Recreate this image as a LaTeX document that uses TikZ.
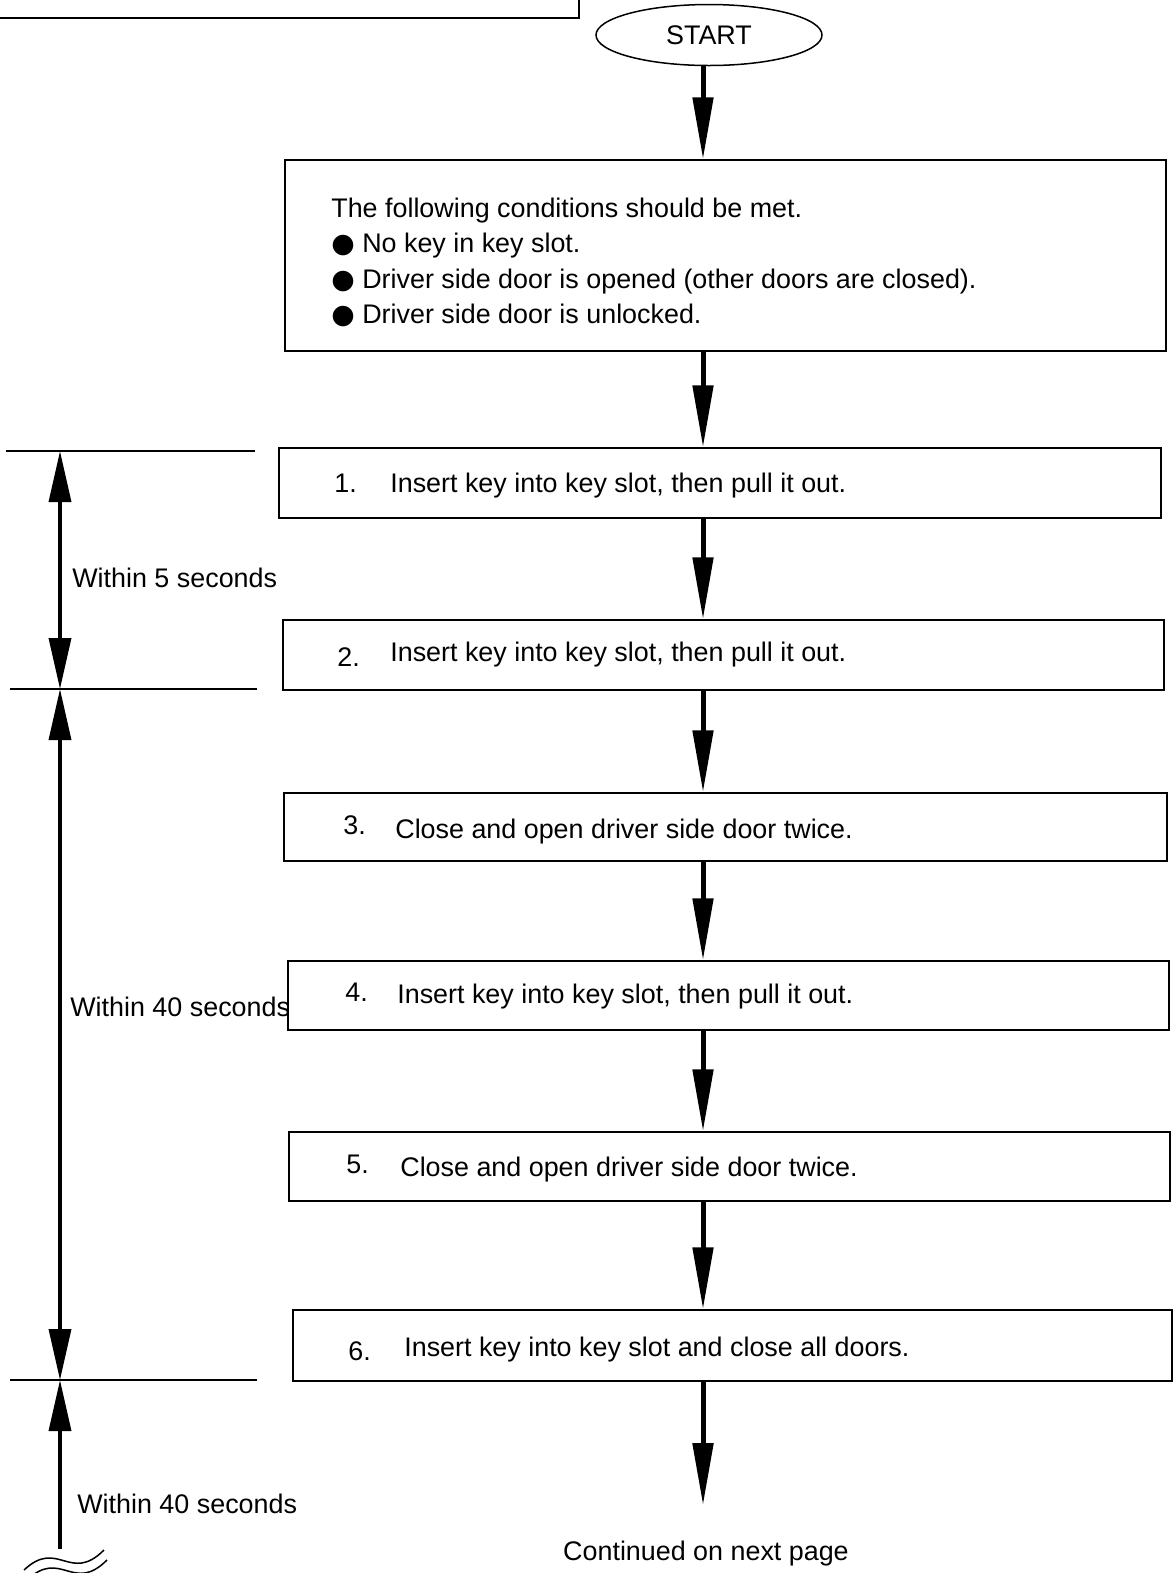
\documentclass[tikz,border=0pt]{standalone}
\usepackage{fontspec}
\setmainfont{Liberation Sans}
\newfontfamily\dotfont{DejaVu Sans}
\usetikzlibrary{arrows.meta,shapes.geometric}
\newcommand{\blt}{{\dotfont ●}\ }
\begin{document}
\begin{tikzpicture}[x=0.2mm,y=-0.2mm,font=\fontsize{15.3}{20}\selectfont,
    boxline/.style={line width=0.3mm},
    stepbox/.style={draw,boxline,minimum height=14mm,inner sep=0pt},
    txt/.style={inner sep=0pt,anchor=base west},
    flow/.style={line width=1mm,-{Triangle[length=12.4mm,width=4mm]}},
    dimboth/.style={line width=0.7mm,{Triangle[length=10.2mm,width=4.4mm]}-{Triangle[length=10.2mm,width=4.4mm]}},
    dimup/.style={line width=0.7mm,{Triangle[length=10.2mm,width=4.4mm]}-}]
\useasboundingbox (0,0) rectangle (1173,1573);
% corner of the box above
\draw[boxline] (-5,18) -- (579,18) -- (579,-5);
\node[draw,boxline,ellipse,minimum width=45.2mm,minimum height=12.2mm,inner sep=0pt] (start) at (709,35) {START};
\coordinate (axis) at (703,0);
% conditions
\node[stepbox,minimum width=176.2mm,minimum height=38.2mm] (cond) at (725.5,255.5) {};
\node[inner sep=0pt,anchor=north west,align=left] (condtxt) at (331,198) {The following conditions should be met.\\
\blt No key in key slot.\\
\blt Driver side door is opened (other doors are closed).\\
\blt Driver side door is unlocked.};
% steps
\node[stepbox,minimum width=176.4mm] (s1) at (720,483) {};
\node[txt] (n1) at (334,492.5) {1.};
\node[txt] (t1) at (390,492.5) {Insert key into key slot, then pull it out.};
\node[stepbox,minimum width=176.2mm] (s2) at (723.5,655) {};
\node[txt] (n2) at (337,666.5) {2.};
\node[txt] (t2) at (390,661.5) {Insert key into key slot, then pull it out.};
\node[stepbox,minimum width=176.6mm,minimum height=13.6mm] (s3) at (725.5,827) {};
\node[txt] (n3) at (343,834.5) {3.};
\node[txt] (t3) at (395,838.5) {Close and open driver side door twice.};
\node[stepbox,minimum width=176.2mm,minimum height=13.8mm] (s4) at (728.5,995.5) {};
\node[txt] (n4) at (345,1001.5) {4.};
\node[txt] (t4) at (397,1003.5) {Insert key into key slot, then pull it out.};
\node[stepbox,minimum width=176.2mm,minimum height=13.8mm] (s5) at (729.5,1166.5) {};
\node[txt] (n5) at (346,1173.5) {5.};
\node[txt] (t5) at (400,1176.5) {Close and open driver side door twice.};
\node[stepbox,minimum width=175.8mm,minimum height=14.2mm] (s6) at (732.5,1345.5) {};
\node[txt] (n6) at (348,1360.5) {6.};
\node[txt] (t6) at (404,1356.5) {Insert key into key slot and close all doors.};
\node[inner sep=0pt,anchor=base] (cont) at (706,1560) {Continued on next page};
% flow
\draw[flow] (start.south -| axis) -- (cond.north -| axis);
\draw[flow] (cond.south -| axis) -- (s1.north -| axis);
\draw[flow] (s1.south -| axis) -- (s2.north -| axis);
\draw[flow] (s2.south -| axis) -- (s3.north -| axis);
\draw[flow] (s3.south -| axis) -- (s4.north -| axis);
\draw[flow] (s4.south -| axis) -- (s5.north -| axis);
\draw[flow] (s5.south -| axis) -- (s6.north -| axis);
\draw[flow,shorten >=7mm] (s6.south -| axis) -- (cont.north -| axis);
% time limits
\coordinate (m0) at (60,451);
\coordinate (m1) at (60,689);
\coordinate (m2) at (60,1380);
\coordinate (m3) at (60,1549);
\draw[boxline] (6,451) -- (255,451);
\draw[boxline] (10,689) -- (257,689);
\draw[boxline] (10,1380) -- (257,1380);
\draw[dimboth] (m0) -- (m1);
\draw[dimboth] (m1) -- (m2);
\draw[dimup] (m2) -- (m3);
\node[txt] (w1) at (72,587.5) {Within 5 seconds};
\node[txt] (w2) at (70,1016.5) {Within 40 seconds};
\node[txt] (w3) at (77,1513.5) {Within 40 seconds};
\draw[boxline] (24,1570) .. controls (58,1538) and (70,1584) .. (104,1550);
\draw[boxline] (27,1580) .. controls (61,1548) and (73,1594) .. (107,1560);
\end{tikzpicture}
\end{document}
